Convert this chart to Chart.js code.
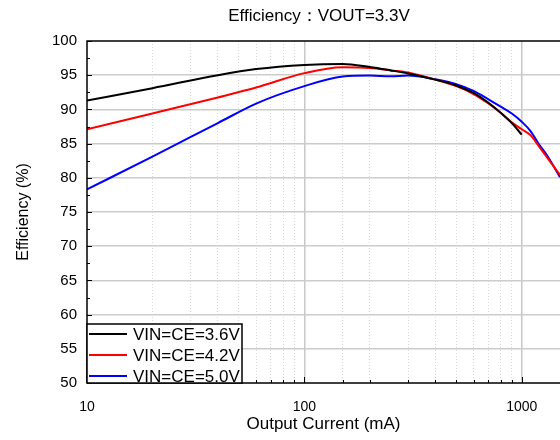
<!DOCTYPE html>
<html>
<head>
<meta charset="utf-8">
<script src="https://cdn.jsdelivr.net/npm/chart.js@4.4.0/dist/chart.umd.min.js"></script>
<style>
  html, body { margin: 0; padding: 0; background: #fff; }
  #wrap { width: 560px; height: 440px; }
</style>
</head>
<body>
<div id="wrap"><canvas id="myChart"></canvas></div>
<script>
// Output current (mA) and efficiency (%)
const currents = [10, 20, 40, 60, 100, 150, 200, 250, 300, 400, 500, 600, 700, 800, 900, 1000, 1100, 1200, 1300, 1500];
const eff36 = [91.3, 93.1, 95.0, 95.9, 96.5, 96.65, 96.2, 95.7, 95.25, 94.35, 93.5, 92.4, 91.0, 89.5, 88.0, 86.3, null, null, null, null];
const eff42 = [87.1, 89.4, 91.75, 93.2, 95.3, 96.15, 96.05, 95.7, 95.4, 94.35, 93.4, 92.25, 90.9, 89.5, 88.1, 87.1, 86.2, 84.6, 83.1, 80.4];
const eff50 = [78.3, 83.1, 88.0, 90.85, 93.4, 94.8, 94.95, 94.85, 94.95, 94.4, 93.7, 92.7, 91.5, 90.4, 89.4, 88.2, 86.8, 84.9, 83.4, 80.1];
const seriesLabels = ['VIN=CE=3.6V', 'VIN=CE=4.2V', 'VIN=CE=5.0V'];
const seriesColors = ['#000000', '#ff0000', '#0000ff'];
const xTickLabels = [10, 100, 1000];
const yTickLabels = [50, 55, 60, 65, 70, 75, 80, 85, 90, 95, 100];
const titleText = 'Efficiency：VOUT=3.3V';

const FONT = 'Arial, "Liberation Sans", sans-serif';

function isDecade(v) {
    return xTickLabels.includes(v);
}

function toPoints(values) {
    return currents.map((c, i) => ({ x: c, y: values[i] }));
}

// frame, inward tick marks, title and boxed legend
const decorPlugin = {
    id: 'decor',
    afterDraw(chart) {
        const { ctx, chartArea: a, scales } = chart;
        const xs = scales.x, ys = scales.y;
        ctx.save();
        ctx.strokeStyle = '#000';
        ctx.lineWidth = 1.5;
        ctx.beginPath();
        ctx.moveTo(a.left, a.bottom);
        ctx.lineTo(a.left, a.top);
        ctx.lineTo(a.right, a.top);
        ctx.moveTo(a.left, a.bottom);
        ctx.lineTo(a.right, a.bottom);
        ctx.stroke();

        // y ticks pointing into the plot
        ctx.lineWidth = 1;
        ys.ticks.forEach(t => {
            const py = Math.round(ys.getPixelForValue(t.value)) + 0.5;
            const len = t.value % 5 === 0 ? 5 : 3;
            ctx.beginPath();
            ctx.moveTo(a.left, py);
            ctx.lineTo(a.left + len, py);
            ctx.stroke();
        });
        // x ticks pointing up
        xs.ticks.forEach(t => {
            if (t.value >= 1500) return;
            const px = Math.round(xs.getPixelForValue(t.value)) + 0.5;
            const len = isDecade(t.value) ? 6 : 3;
            ctx.beginPath();
            ctx.moveTo(px, a.bottom);
            ctx.lineTo(px, a.bottom - len);
            ctx.stroke();
        });

        // title
        ctx.fillStyle = '#000';
        ctx.font = '17px ' + FONT;
        ctx.textAlign = 'center';
        ctx.textBaseline = 'middle';
        ctx.fillText(titleText, 319, 16);

        // legend box in the lower-left corner
        const boxW = 155, rowH = 21, boxH = 59;
        const bx = a.left, by = a.bottom - boxH;
        ctx.fillStyle = '#fff';
        ctx.fillRect(bx, by, boxW, boxH);
        ctx.strokeStyle = '#000';
        ctx.lineWidth = 1.5;
        ctx.strokeRect(bx, by, boxW, boxH);
        ctx.font = '17px ' + FONT;
        ctx.textAlign = 'left';
        ctx.textBaseline = 'alphabetic';
        chart.data.datasets.forEach((ds, i) => {
            const base = by + 16 + i * rowH;
            ctx.strokeStyle = ds.borderColor;
            ctx.lineWidth = 2;
            ctx.beginPath();
            ctx.moveTo(bx + 2, base - 6);
            ctx.lineTo(bx + 40, base - 6);
            ctx.stroke();
            ctx.fillStyle = '#000';
            ctx.fillText(ds.label, bx + 46, base);
        });
        ctx.restore();
    }
};

const chart = new Chart(document.getElementById('myChart').getContext('2d'), {
    type: 'line',
    data: {
        datasets: [eff36, eff42, eff50].map((vals, i) => ({
            label: seriesLabels[i],
            data: toPoints(vals),
            borderColor: seriesColors[i],
            borderWidth: 2,
            pointRadius: 0,
            fill: false,
            cubicInterpolationMode: 'monotone',
            spanGaps: false
        }))
    },
    options: {
        responsive: true,
        maintainAspectRatio: false,
        animation: false,
        layout: { padding: { top: 41, right: 0, left: 0, bottom: 0 } },
        plugins: {
            legend: { display: false },
            title: { display: false },
            tooltip: { enabled: false }
        },
        scales: {
            x: {
                type: 'logarithmic',
                min: 10,
                max: 1500,
                afterFit: s => { s.height = 57; s.paddingRight = 0; s.paddingLeft = 0; },
                grid: {
                    drawTicks: false,
                    color: c => {
                        if (!c.tick || c.tick.value <= 10 || c.tick.value >= 1500) return 'rgba(0,0,0,0)';
                        return isDecade(c.tick.value) ? '#c8c8c8' : '#d9d9d9';
                    },
                    lineWidth: c => (c.tick && isDecade(c.tick.value)) ? 1.5 : 1
                },
                border: {
                    display: false,
                    dash: c => (c.tick && !isDecade(c.tick.value)) ? [1, 2] : []
                },
                ticks: {
                    autoSkip: false,
                    maxRotation: 0,
                    padding: 16,
                    color: '#000',
                    font: { family: FONT, size: 14 },
                    callback: v => isDecade(v) ? String(v) : ''
                },
                title: {
                    display: true,
                    text: 'Output Current (mA)',
                    color: '#000',
                    font: { family: FONT, size: 17 },
                    padding: { top: 0, bottom: 5 }
                }
            },
            y: {
                min: 50,
                max: 100,
                afterFit: s => { s.width = 87; },
                grid: {
                    drawTicks: false,
                    color: c => {
                        if (!c.tick || c.tick.value % 5 !== 0 || c.tick.value === 50 || c.tick.value === 100) return 'rgba(0,0,0,0)';
                        return '#cccccc';
                    },
                    lineWidth: 1.5
                },
                border: { display: false },
                ticks: {
                    stepSize: 2.5,
                    autoSkip: false,
                    padding: 10,
                    color: '#000',
                    font: { family: FONT, size: 15 },
                    callback: v => yTickLabels.includes(v) ? String(v) : ''
                },
                title: {
                    display: true,
                    text: 'Efficiency (%)',
                    color: '#000',
                    font: { family: FONT, size: 16 },
                    padding: { top: 14, bottom: 0 }
                }
            }
        }
    },
    plugins: [decorPlugin]
});
</script>
</body>
</html>
